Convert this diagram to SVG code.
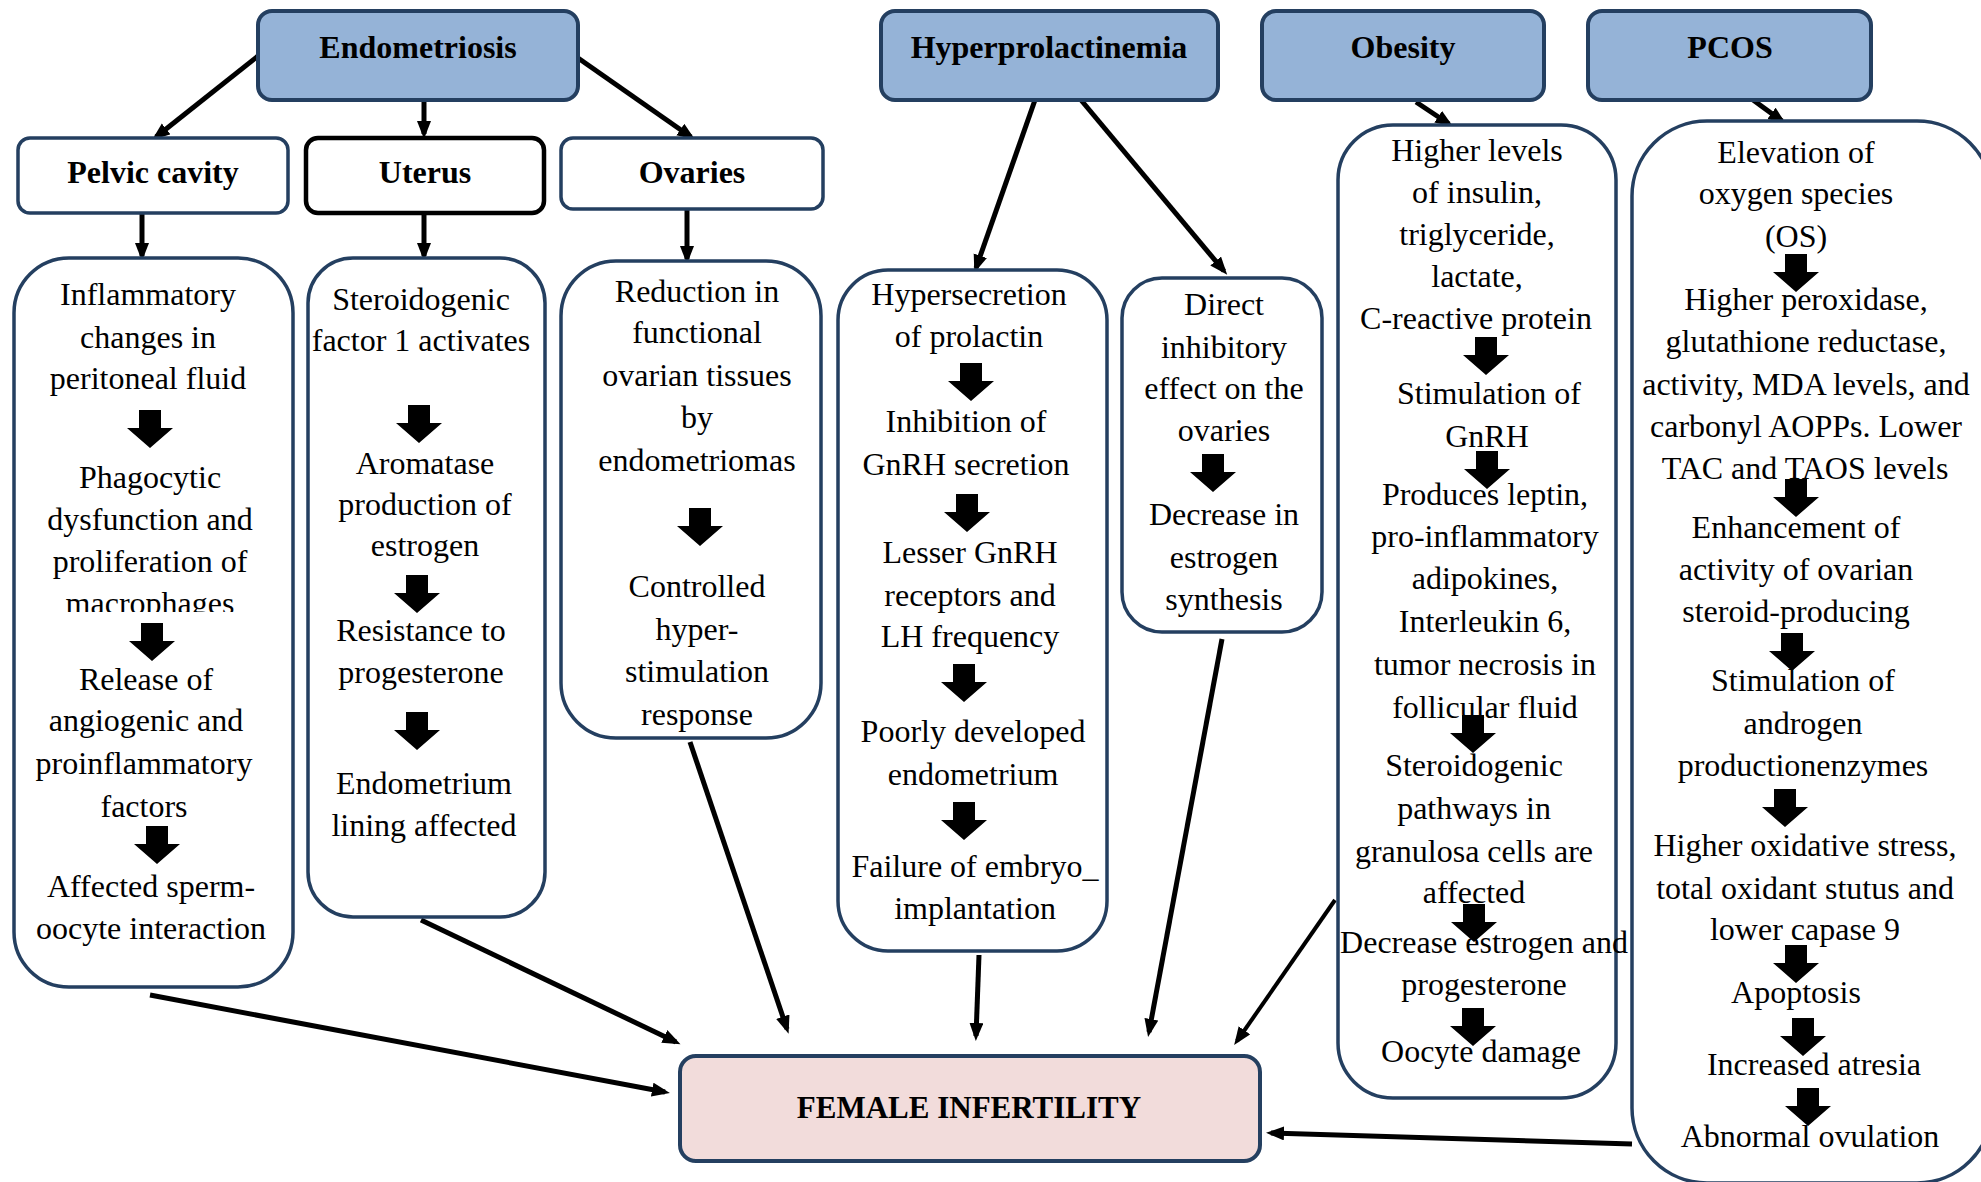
<svg xmlns="http://www.w3.org/2000/svg" xmlns:xlink="http://www.w3.org/1999/xlink" width="1981" height="1182" viewBox="0 0 1981 1182">
  <style>
    .hdr { fill: #95b3d7; stroke: #243f60; stroke-width: 4; }
    .sub { fill: #ffffff; stroke: #243f60; stroke-width: 3.5; }
    .subk { fill: #ffffff; stroke: #000000; stroke-width: 4.5; }
    .box { fill: #ffffff; stroke: #243f60; stroke-width: 3.5; }
    .out { fill: #f2dcdb; stroke: #243f60; stroke-width: 4; }
    .h { font-family: "Liberation Serif", "Times New Roman", serif; font-weight: bold; font-size: 32px; text-anchor: middle; fill: #000; }
    .t { font-family: "Liberation Serif", "Times New Roman", serif; font-size: 32px; text-anchor: middle; fill: #000; }
    .c { stroke: #000; stroke-width: 5; fill: none; marker-end: url(#tip); }
    .c4 { stroke: #000; stroke-width: 4; fill: none; marker-end: url(#tip); }
  </style>
  <defs>
    <marker id="tip" markerUnits="userSpaceOnUse" markerWidth="20" markerHeight="16" refX="13" refY="7" orient="auto">
      <path d="M0,0 L18,7 L0,14 Z" fill="#000"/>
    </marker>
    <!-- fat downward step arrow used inside the pathway boxes -->
    <path id="blk" d="M-11,0 H11 V18 H23 L0,38 L-23,18 H-11 Z" fill="#000"/>
    <clipPath id="clipMac">
      <rect x="0" y="560" width="320" height="52"/>
    </clipPath>
  </defs>

  <rect width="1981" height="1182" fill="#ffffff"/>

  <!-- connectors -->
  <g id="connectors">
    <line class="c" x1="258" y1="56" x2="156" y2="137"/>
    <line class="c" x1="424" y1="102" x2="424" y2="134"/>
    <line class="c" x1="578" y1="58" x2="691" y2="137"/>
    <line class="c" x1="142" y1="213" x2="142" y2="256"/>
    <line class="c" x1="424" y1="213" x2="424" y2="256"/>
    <line class="c" x1="687" y1="210" x2="687" y2="259"/>
    <line class="c" x1="1035" y1="100" x2="976" y2="268"/>
    <line class="c" x1="1081" y1="100" x2="1224" y2="271"/>
    <line class="c" x1="1416" y1="102" x2="1449" y2="124"/>
    <line class="c" x1="1749" y1="97" x2="1782" y2="121"/>
    <line class="c" x1="150" y1="995" x2="665" y2="1092"/>
    <line class="c" x1="421" y1="920" x2="676" y2="1042"/>
    <line class="c" x1="690" y1="742" x2="787" y2="1029"/>
    <line class="c" x1="979" y1="955" x2="976" y2="1036"/>
    <line class="c" x1="1222" y1="639" x2="1149" y2="1032"/>
    <line class="c4" x1="1335" y1="900" x2="1237" y2="1041"/>
    <line class="c" x1="1632" y1="1144" x2="1271" y2="1133"/>
  </g>

  <!-- cause headers -->
  <g id="endometriosis">
    <rect class="hdr" x="258" y="11" width="320" height="89" rx="14"/>
    <text class="h" x="418" y="58">Endometriosis</text>
  </g>
  <g id="hyperprolactinemia">
    <rect class="hdr" x="881" y="11" width="337" height="89" rx="14"/>
    <text class="h" x="1049" y="58">Hyperprolactinemia</text>
  </g>
  <g id="obesity">
    <rect class="hdr" x="1262" y="11" width="282" height="89" rx="14"/>
    <text class="h" x="1403" y="58">Obesity</text>
  </g>
  <g id="pcos">
    <rect class="hdr" x="1588" y="11" width="283" height="89" rx="14"/>
    <text class="h" x="1730" y="58">PCOS</text>
  </g>

  <!-- endometriosis sites -->
  <g id="pelvic-cavity">
    <rect class="sub" x="18" y="138" width="270" height="75" rx="12"/>
    <text class="h" x="153" y="183">Pelvic cavity</text>
  </g>
  <g id="uterus">
    <rect class="subk" x="306" y="138" width="238" height="75" rx="12"/>
    <text class="h" x="425" y="183">Uterus</text>
  </g>
  <g id="ovaries">
    <rect class="sub" x="561" y="138" width="262" height="71" rx="12"/>
    <text class="h" x="692" y="183">Ovaries</text>
  </g>

  <!-- pelvic cavity pathway -->
  <g id="pelvic-pathway">
    <rect class="box" x="14" y="258" width="279" height="729" rx="55"/>
    <text class="t" x="148" y="305">Inflammatory</text>
    <text class="t" x="148" y="348">changes in</text>
    <text class="t" x="148" y="389">peritoneal fluid</text>
    <use xlink:href="#blk" x="150" y="410"/>
    <text class="t" x="150" y="488">Phagocytic</text>
    <text class="t" x="150" y="530">dysfunction and</text>
    <text class="t" x="150" y="572">proliferation of</text>
    <text class="t" x="150" y="614" clip-path="url(#clipMac)">macrophages</text>
    <use xlink:href="#blk" x="152" y="623"/>
    <text class="t" x="146" y="690">Release of</text>
    <text class="t" x="146" y="731">angiogenic and</text>
    <text class="t" x="144" y="774">proinflammatory</text>
    <text class="t" x="144" y="817">factors</text>
    <use xlink:href="#blk" x="157" y="826"/>
    <text class="t" x="151" y="897">Affected sperm-</text>
    <text class="t" x="151" y="939">oocyte interaction</text>
  </g>

  <!-- uterus pathway -->
  <g id="uterus-pathway">
    <rect class="box" x="308" y="258" width="237" height="659" rx="45"/>
    <text class="t" x="421" y="310">Steroidogenic</text>
    <text class="t" x="421" y="351">factor 1 activates</text>
    <use xlink:href="#blk" x="419" y="405"/>
    <text class="t" x="425" y="474">Aromatase</text>
    <text class="t" x="425" y="515">production of</text>
    <text class="t" x="425" y="556">estrogen</text>
    <use xlink:href="#blk" x="417" y="575"/>
    <text class="t" x="421" y="641">Resistance to</text>
    <text class="t" x="421" y="683">progesterone</text>
    <use xlink:href="#blk" x="417" y="712"/>
    <text class="t" x="424" y="794">Endometrium</text>
    <text class="t" x="424" y="836">lining affected</text>
  </g>

  <!-- ovaries pathway -->
  <g id="ovaries-pathway">
    <rect class="box" x="561" y="261" width="260" height="477" rx="55"/>
    <text class="t" x="697" y="302">Reduction in</text>
    <text class="t" x="697" y="343">functional</text>
    <text class="t" x="697" y="386">ovarian tissues</text>
    <text class="t" x="697" y="428">by</text>
    <text class="t" x="697" y="471">endometriomas</text>
    <use xlink:href="#blk" x="700" y="508"/>
    <text class="t" x="697" y="597">Controlled</text>
    <text class="t" x="697" y="640">hyper-</text>
    <text class="t" x="697" y="682">stimulation</text>
    <text class="t" x="697" y="725">response</text>
  </g>

  <!-- hyperprolactinemia pathways -->
  <g id="prolactin-pathway">
    <rect class="box" x="838" y="270" width="269" height="681" rx="50"/>
    <text class="t" x="969" y="305">Hypersecretion</text>
    <text class="t" x="969" y="347">of prolactin</text>
    <use xlink:href="#blk" x="971" y="363"/>
    <text class="t" x="966" y="432">Inhibition of</text>
    <text class="t" x="966" y="475">GnRH secretion</text>
    <use xlink:href="#blk" x="967" y="494"/>
    <text class="t" x="970" y="563">Lesser GnRH</text>
    <text class="t" x="970" y="606">receptors and</text>
    <text class="t" x="970" y="647">LH frequency</text>
    <use xlink:href="#blk" x="964" y="664"/>
    <text class="t" x="973" y="742">Poorly developed</text>
    <text class="t" x="973" y="785">endometrium</text>
    <use xlink:href="#blk" x="964" y="802"/>
    <text class="t" x="975" y="877">Failure of embryo_</text>
    <text class="t" x="975" y="919">implantation</text>
  </g>
  <g id="ovary-inhibition">
    <rect class="box" x="1122" y="278" width="200" height="354" rx="40"/>
    <text class="t" x="1224" y="315">Direct</text>
    <text class="t" x="1224" y="358">inhibitory</text>
    <text class="t" x="1224" y="399">effect on the</text>
    <text class="t" x="1224" y="441">ovaries</text>
    <use xlink:href="#blk" x="1213" y="454"/>
    <text class="t" x="1224" y="525">Decrease in</text>
    <text class="t" x="1224" y="568">estrogen</text>
    <text class="t" x="1224" y="610">synthesis</text>
  </g>

  <!-- obesity pathway -->
  <g id="obesity-pathway">
    <rect class="box" x="1338" y="125" width="278" height="973" rx="55"/>
    <text class="t" x="1477" y="161">Higher levels</text>
    <text class="t" x="1477" y="203">of insulin,</text>
    <text class="t" x="1477" y="245">triglyceride,</text>
    <text class="t" x="1477" y="287">lactate,</text>
    <text class="t" x="1476" y="329">C-reactive protein</text>
    <use xlink:href="#blk" x="1486" y="337"/>
    <text class="t" x="1489" y="404">Stimulation of</text>
    <text class="t" x="1487" y="447">GnRH</text>
    <use xlink:href="#blk" x="1487" y="451"/>
    <text class="t" x="1485" y="505">Produces leptin,</text>
    <text class="t" x="1485" y="547">pro-inflammatory</text>
    <text class="t" x="1485" y="589">adipokines,</text>
    <text class="t" x="1485" y="632">Interleukin 6,</text>
    <text class="t" x="1485" y="675">tumor necrosis in</text>
    <text class="t" x="1485" y="718">follicular fluid</text>
    <use xlink:href="#blk" x="1473" y="715"/>
    <text class="t" x="1474" y="776">Steroidogenic</text>
    <text class="t" x="1474" y="819">pathways in</text>
    <text class="t" x="1474" y="862">granulosa cells are</text>
    <text class="t" x="1474" y="903">affected</text>
    <use xlink:href="#blk" x="1474" y="904"/>
    <text class="t" x="1484" y="953">Decrease estrogen and</text>
    <text class="t" x="1484" y="995">progesterone</text>
    <use xlink:href="#blk" x="1473" y="1008"/>
    <text class="t" x="1481" y="1062">Oocyte damage</text>
  </g>

  <!-- PCOS pathway -->
  <g id="pcos-pathway">
    <rect class="box" x="1632" y="121" width="360" height="1062" rx="75"/>
    <text class="t" x="1796" y="163">Elevation of</text>
    <text class="t" x="1796" y="204">oxygen species</text>
    <text class="t" x="1796" y="247">(OS)</text>
    <use xlink:href="#blk" x="1796" y="254"/>
    <text class="t" x="1806" y="310">Higher peroxidase,</text>
    <text class="t" x="1806" y="352">glutathione reductase,</text>
    <text class="t" x="1806" y="395">activity, MDA levels, and</text>
    <text class="t" x="1806" y="437">carbonyl AOPPs. Lower</text>
    <text class="t" x="1805" y="479">TAC and TAOS levels</text>
    <use xlink:href="#blk" x="1796" y="479"/>
    <text class="t" x="1796" y="538">Enhancement of</text>
    <text class="t" x="1796" y="580">activity of ovarian</text>
    <text class="t" x="1796" y="622">steroid-producing</text>
    <use xlink:href="#blk" x="1792" y="633"/>
    <text class="t" x="1803" y="691">Stimulation of</text>
    <text class="t" x="1803" y="734">androgen</text>
    <text class="t" x="1803" y="776">productionenzymes</text>
    <use xlink:href="#blk" x="1785" y="789"/>
    <text class="t" x="1805" y="856">Higher oxidative stress,</text>
    <text class="t" x="1805" y="899">total oxidant stutus and</text>
    <text class="t" x="1805" y="940">lower capase 9</text>
    <use xlink:href="#blk" x="1796" y="945"/>
    <text class="t" x="1796" y="1003">Apoptosis</text>
    <use xlink:href="#blk" x="1803" y="1018"/>
    <text class="t" x="1814" y="1075">Increased atresia</text>
    <use xlink:href="#blk" x="1808" y="1088"/>
    <text class="t" x="1810" y="1147">Abnormal ovulation</text>
  </g>

  <!-- outcome -->
  <g id="female-infertility">
    <rect class="out" x="680" y="1056" width="580" height="105" rx="16"/>
    <text class="h" x="969" y="1118" style="font-size:31px">FEMALE INFERTILITY</text>
  </g>
</svg>
